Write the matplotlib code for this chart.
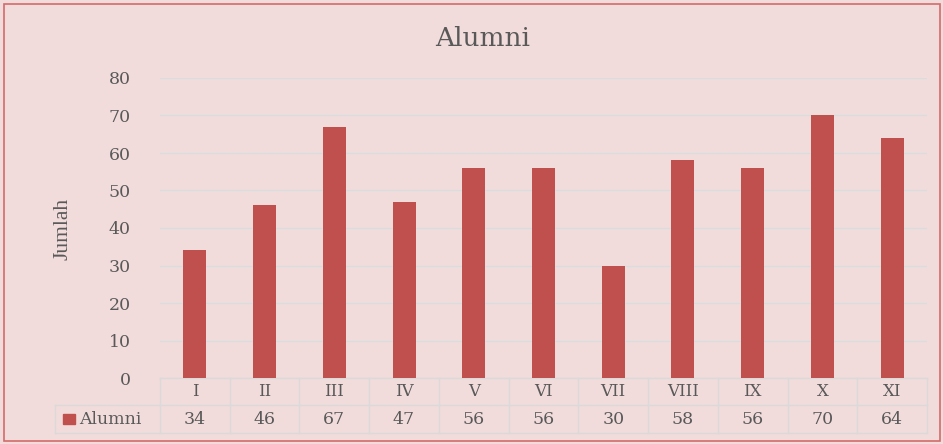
import matplotlib.pyplot as plt
from matplotlib.patches import Rectangle
from matplotlib.transforms import blended_transform_factory

categories = ["I", "II", "III", "IV", "V", "VI", "VII", "VIII", "IX", "X", "XI"]
values = [34, 46, 67, 47, 56, 56, 30, 58, 56, 70, 64]
series_name = "Alumni"
yticks = [0, 10, 20, 30, 40, 50, 60, 70, 80]

bg = "#F2DCDB"
bar_color = "#C0504D"
text_color = "#595959"
grid_color = "#D8DDE0"

fig = plt.figure(figsize=(9.43, 4.44), dpi=100, facecolor=bg)
fig.patches.append(Rectangle((0.004, 0.006), 0.993, 0.985, transform=fig.transFigure,
                             fill=False, edgecolor="#D46A6A", linewidth=1.2))

ax = fig.add_axes([160 / 943, 66 / 444, 767 / 943, 300 / 444])
ax.set_facecolor(bg)
x = list(range(len(categories)))
ax.bar([i + 0.5 for i in x], values, width=0.33, color=bar_color, zorder=3)
ax.set_xlim(0, len(categories))
ax.set_ylim(0, 80)
ax.set_yticks(yticks)
ax.set_yticklabels([str(t) for t in yticks], family="DejaVu Serif", fontsize=12.5, color=text_color)
ax.tick_params(axis="y", length=0, pad=21)
ax.set_xticks([])
for s in ax.spines.values():
    s.set_visible(False)
ax.grid(axis="y", color=grid_color, linewidth=1, zorder=0)

fig.text(483 / 943, 1 - 38 / 444, "Alumni", family="DejaVu Serif", fontsize=19,
         color=text_color, ha="center", va="center")
ax.set_ylabel("Jumlah", family="Liberation Serif", fontsize=15.5, color=text_color)
ax.yaxis.set_label_coords((72 - 160) / 767, (444 - 229 - 66) / 300)

# data table under the axis
tr = blended_transform_factory(ax.transData, ax.transAxes)
r1, r2 = -27 / 300, -55 / 300
lc = "#DADADA"
left = -105 / 767
ax.plot([0, 1], [0, 0], transform=ax.transAxes, color=lc, lw=1, clip_on=False)
ax.plot([left, 1], [r1, r1], transform=ax.transAxes, color=lc, lw=1, clip_on=False)
ax.plot([left, 1], [r2, r2], transform=ax.transAxes, color=lc, lw=1, clip_on=False)
ax.plot([left, left], [r1, r2], transform=ax.transAxes, color=lc, lw=1, clip_on=False)
for i in range(len(categories) + 1):
    ax.plot([i, i], [0, r2], transform=tr, color=lc, lw=1, clip_on=False)
for i, (c, v) in enumerate(zip(categories, values)):
    ax.text(i + 0.5, r1 / 2, c, transform=tr, ha="center", va="center",
            family="DejaVu Serif", fontsize=12, color=text_color)
    ax.text(i + 0.5, (r1 + r2) / 2, str(v), transform=tr, ha="center", va="center",
            family="DejaVu Serif", fontsize=12.5, color=text_color)
ax.add_patch(Rectangle((-97 / 767, (r1 + r2) / 2 - 0.017), 12 / 767, 0.034, transform=ax.transAxes,
                       color=bar_color, clip_on=False))
ax.text(-81 / 767, (r1 + r2) / 2, series_name, transform=ax.transAxes, ha="left", va="center",
        family="DejaVu Serif", fontsize=12.5, color=text_color)

fig.savefig("out.png", dpi=100, facecolor=bg)
